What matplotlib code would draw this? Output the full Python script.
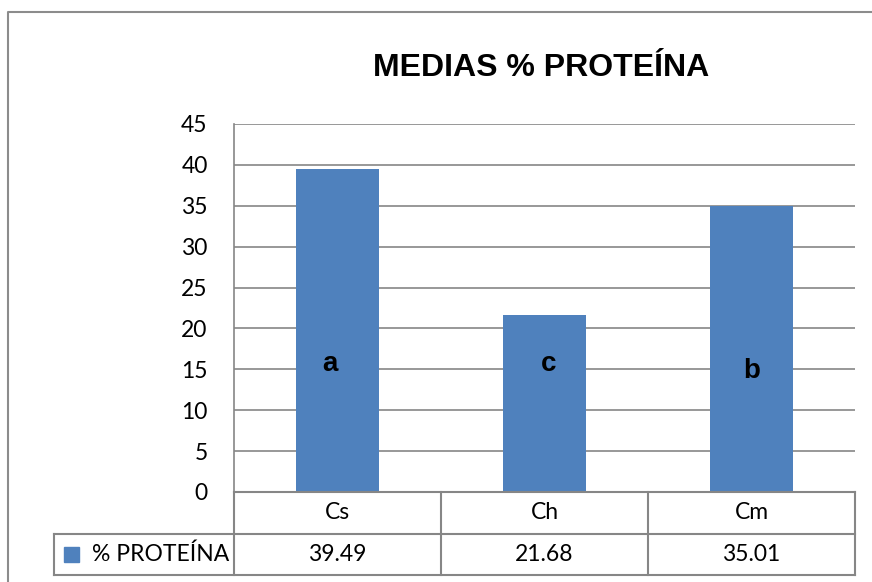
import matplotlib.pyplot as plt
from matplotlib.lines import Line2D
from matplotlib.patches import Rectangle

# ---------------- DATA ----------------
categorias = ["Cs", "Ch", "Cm"]
proteina = [39.49, 21.68, 35.01]
letras = ["a", "c", "b"]
serie = "% PROTEÍNA"
titulo = "MEDIAS % PROTEÍNA"

# ---------------- STYLE ----------------
W, H = 872, 582
azul = "#4F81BD"
gris = "#868686"
fuente = ["Lato", "DejaVu Sans"]
plt.rcParams["font.family"] = fuente


def fx(px):
    return px / W


def fy(py):
    return 1 - py / H


fig = plt.figure(figsize=(W / 100, H / 100), dpi=100)

# outer frame of the chart
fig.add_artist(Line2D([fx(8), fx(8), 1.0], [0.0, fy(12), fy(12)],
                      color="#8c8c8c", lw=1.5, transform=fig.transFigure))

# title
fig.text(fx(541), fy(68), titulo, ha="center", va="center",
         fontsize=23, fontweight="bold", family="Liberation Sans")

# ---------------- PLOT AREA ----------------
left, right, top, zero = 234, 855, 124, 492
ax = fig.add_axes([fx(left), fy(zero), fx(right - left), (zero - top) / H])
x = range(len(categorias))
ax.bar(x, proteina, width=0.4, color=azul, zorder=3)
ax.set_xlim(-0.5, len(categorias) - 0.5)
ax.set_ylim(0, 45)
ax.set_yticks(range(0, 50, 5))
ax.tick_params(axis="y", length=0, pad=19, labelsize=16.5)
ax.set_xticks([])
ax.grid(axis="y", color=gris, lw=1.2, zorder=0)
for s in ["top", "right", "bottom"]:
    ax.spines[s].set_visible(False)
ax.spines["left"].set_color(gris)
ax.spines["left"].set_linewidth(1.2)

# significance letters inside the bars (baseline positions)
letra_x = [-0.036, 1.02, 2.0]
letra_y = [14.85, 14.85, 13.9]
for l, xx, yy in zip(letras, letra_x, letra_y):
    ax.text(xx, yy, l, ha="center", va="baseline",
            fontsize=20, fontweight="bold", family="Liberation Sans")

# ---------------- DATA TABLE ----------------
tleft, tbottom = 54, 575
col_w = (right - left) / len(categorias)
tab = fig.add_axes([fx(tleft), fy(tbottom), fx(right - tleft), (tbottom - zero) / H])
x0 = -0.5 - (left - tleft) / col_w
tab.set_xlim(x0, len(categorias) - 0.5)
tab.set_ylim(0, 2)
tab.axis("off")
lc = dict(color=gris, lw=1.5, clip_on=False)

# horizontal rules
tab.plot([-0.5, len(categorias) - 0.5], [2, 2], **lc)
tab.plot([x0, len(categorias) - 0.5], [1, 1], **lc)
tab.plot([x0, len(categorias) - 0.5], [0, 0], **lc)
# vertical rules
tab.plot([x0, x0], [0, 1], **lc)
for k in range(len(categorias) + 1):
    tab.plot([k - 0.5, k - 0.5], [0, 2], **lc)

for i, (c, v) in enumerate(zip(categorias, proteina)):
    tab.text(i, 1.5, c, ha="center", va="center", fontsize=16.5)
    tab.text(i, 0.5, f"{v:.2f}", ha="center", va="center", fontsize=16.5)

# legend key in the first column
kw = 15 / col_w
tab.add_patch(Rectangle((x0 + 10 / col_w, 0.5 - 7.5 / 41.5), kw, 15 / 41.5,
                        color=azul, clip_on=False))
tab.text(x0 + 38 / col_w, 0.5, serie, ha="left", va="center", fontsize=16.5)

fig.savefig("out.png", dpi=100)
